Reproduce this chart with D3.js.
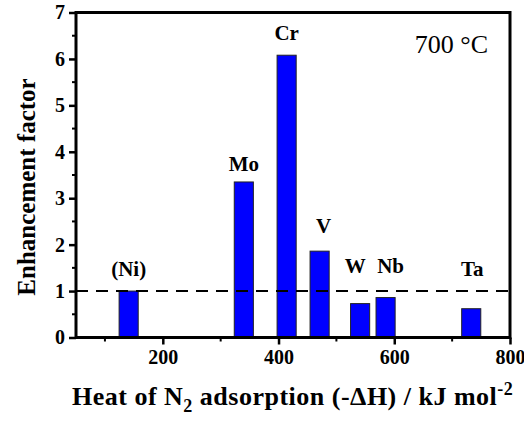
<!DOCTYPE html>
<html>
<head>
<meta charset="utf-8">
<script src="https://cdn.jsdelivr.net/npm/d3@7"></script>
<style>
  body { margin: 0; background: #fff; }
  text { font-family: "Liberation Serif", "Times New Roman", serif; }
</style>
</head>
<body>
<div id="chart"></div>
<script>
// metals and their N2 adsorption heat / enhancement factor
var metals = ["(Ni)", "Mo", "Cr", "V", "W", "Nb", "Ta"];
var heats = [141, 340, 414, 471, 541, 585, 733];
var factors = [1.0, 3.35, 6.08, 1.86, 0.73, 0.86, 0.62];
var xTicks = [200, 400, 600, 800];
var yTicks = [0, 1, 2, 3, 4, 5, 6, 7];

var W = 524, H = 428;
var plotL = 76, plotR = 510, plotT = 12.5, plotB = 337.5;

var svg = d3.select("#chart").append("svg")
	.attr("width", W)
	.attr("height", H);

var x = d3.scaleLinear().domain([50, 800]).range([plotL, plotR]);
var y = d3.scaleLinear().domain([0, 7]).range([plotB, plotT]);
var barW = x(83) - x(50);

// bars
svg.selectAll(".bar")
	.data(heats)
	.enter().append("rect")
	.attr("class", "bar")
	.attr("x", function(d) { return x(d) - barW / 2; })
	.attr("y", function(d, i) { return y(factors[i]); })
	.attr("width", barW)
	.attr("height", function(d, i) { return y(0) - y(factors[i]); })
	.style("fill", "#0000ff")
	.style("stroke", "#222")
	.style("stroke-width", 1);

// labels above bars (the short bars get labels up at a shared height)
var labelDx = [0, 0, 0, 4, -5, 5, 1];
svg.selectAll(".lab")
	.data(metals)
	.enter().append("text")
	.attr("class", "lab")
	.attr("x", function(d, i) { return x(heats[i]) + labelDx[i]; })
	.attr("y", function(d, i) {
		if (d == "W" || d == "Nb") return 273;
		if (d == "Ta" || d == "(Ni)") return 276;
		if (d == "V") return y(factors[i]) - 18;
		if (d == "Cr") return y(factors[i]) - 15;
		return y(factors[i]) - 11;
	})
	.attr("text-anchor", "middle")
	.style("font-size", "21px")
	.style("font-weight", "bold")
	.text(function(d) { return d; });

// dashed reference line at 1
svg.append("line")
	.attr("x1", plotL).attr("x2", plotR)
	.attr("y1", y(1)).attr("y2", y(1))
	.style("stroke", "#000")
	.style("stroke-width", 2)
	.style("stroke-dasharray", "12,8");

// minor ticks
svg.selectAll(".xminor")
	.data([100, 300, 500, 700])
	.enter().append("line")
	.attr("x1", function(d) { return x(d); }).attr("x2", function(d) { return x(d); })
	.attr("y1", plotB).attr("y2", plotB + 4)
	.style("stroke", "#000").style("stroke-width", 2);
svg.selectAll(".yminor")
	.data([0.5, 1.5, 2.5, 3.5, 4.5, 5.5, 6.5])
	.enter().append("line")
	.attr("x1", plotL - 4).attr("x2", plotL)
	.attr("y1", function(d) { return y(d); }).attr("y2", function(d) { return y(d); })
	.style("stroke", "#000").style("stroke-width", 2);

// axes
var xAxis = svg.append("g")
	.attr("transform", "translate(0," + plotB + ")")
	.call(d3.axisBottom(x).tickValues(xTicks).tickFormat(d3.format("d")).tickSize(7).tickPadding(5));
var yAxis = svg.append("g")
	.attr("transform", "translate(" + plotL + ",0)")
	.call(d3.axisLeft(y).tickValues(yTicks).tickFormat(d3.format("d")).tickSize(7).tickPadding(4));

[xAxis, yAxis].forEach(function(a) {
	a.select(".domain").remove();
	a.selectAll("line").style("stroke", "#000").style("stroke-width", 2.5);
	a.selectAll("text")
		.style("font-family", "'Liberation Serif', serif")
		.style("font-size", "20px")
		.style("font-weight", "bold")
		.style("fill", "#000");
});

// frame
svg.append("rect")
	.attr("x", plotL).attr("y", plotT)
	.attr("width", plotR - plotL).attr("height", plotB - plotT)
	.style("fill", "none")
	.style("stroke", "#000")
	.style("stroke-width", 3);

// temperature note
svg.append("text")
	.attr("x", 488).attr("y", 53)
	.attr("text-anchor", "end")
	.style("font-size", "26px")
	.text("700 °C");

// axis titles
var xt = svg.append("text")
	.attr("x", 72).attr("y", 405)
	.style("font-size", "26px")
	.style("font-weight", "bold")
	.style("letter-spacing", "0.5px");
xt.append("tspan").text("Heat of N");
xt.append("tspan").attr("dy", 7).style("font-size", "18px").text("2");
xt.append("tspan").attr("dy", -7).text(" adsorption (-ΔH) / kJ mol");
xt.append("tspan").attr("dy", -10).style("font-size", "18px").text("-2");

svg.append("text")
	.attr("transform", "translate(35,187) rotate(-90)")
	.attr("text-anchor", "middle")
	.style("font-size", "25px")
	.style("font-weight", "bold")
	.text("Enhancement factor");
</script>
</body>
</html>
